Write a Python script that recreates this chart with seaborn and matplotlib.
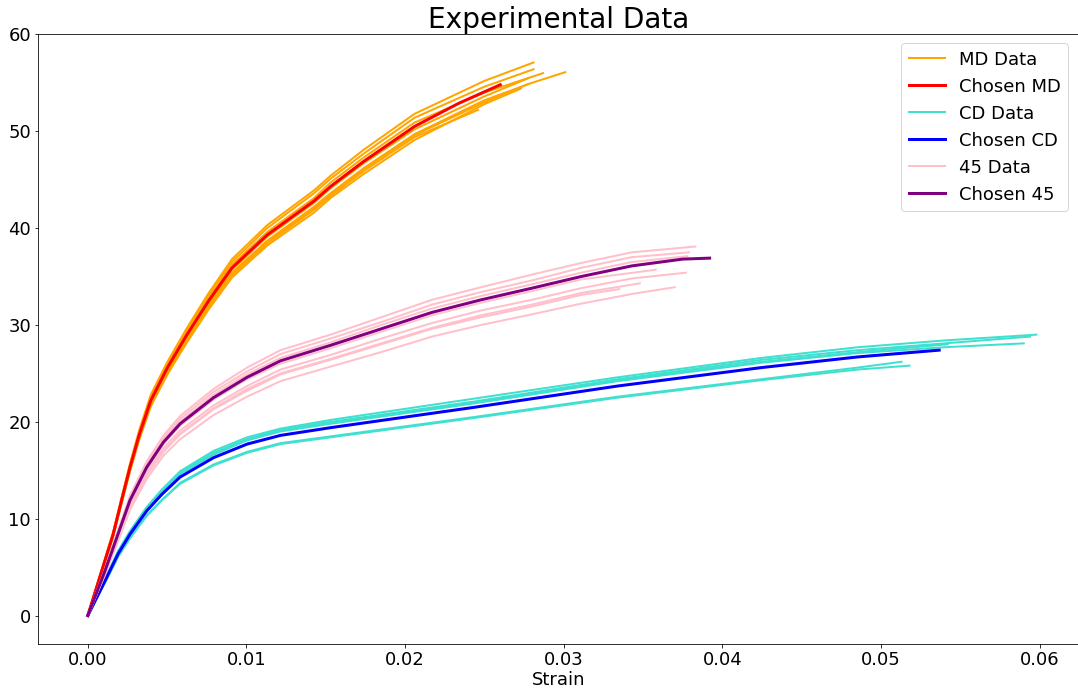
import matplotlib
matplotlib.use("Agg")
import matplotlib.pyplot as plt
import seaborn as sns

# ---------------- data ----------------
# ---- MD direction ----
md_grid = [0, 0.0016, 0.00213, 0.00266, 0.00325, 0.00397, 0.00502, 0.00625,
           0.00762, 0.00909, 0.01131, 0.01426, 0.0153, 0.0174, 0.0206]
md_tail_strain = [
    [0.025, 0.0281],
    [0.025, 0.0281],
    [0.025, 0.0287],
    [0.025, 0.028, 0.0301],
    [0.025, 0.0278],
    [0.025, 0.0278],
    [0.025, 0.0273],
    [0.0246],
]
md_stress = [
    [0, 8.6, 12.2, 15.7, 19.2, 22.8, 26.2, 29.7, 33.3, 36.8, 40.3, 43.9, 45.4, 48.1, 51.8, 55.2, 57.1],
    [0, 8.6, 12.1, 15.6, 19.0, 22.6, 26.1, 29.5, 33.1, 36.5, 40.0, 43.6, 45.1, 47.7, 51.4, 54.6, 56.4],
    [0, 8.5, 12.0, 15.4, 18.8, 22.4, 25.8, 29.2, 32.8, 36.2, 39.6, 43.1, 44.7, 47.3, 50.9, 54.0, 56.0],
    [0, 8.3, 11.7, 15.1, 18.4, 21.9, 25.2, 28.6, 32.0, 35.4, 38.7, 42.2, 43.6, 46.2, 49.7, 53.2, 55.0, 56.1],
    [0, 8.4, 11.8, 15.2, 18.6, 22.1, 25.5, 28.9, 32.3, 35.7, 39.1, 42.6, 44.1, 46.7, 50.2, 53.6, 55.5],
    [0, 8.2, 11.7, 15.0, 18.4, 21.8, 25.1, 28.5, 31.9, 35.3, 38.6, 42.0, 43.5, 46.1, 49.6, 53.0, 54.9],
    [0, 8.2, 11.6, 14.9, 18.2, 21.6, 24.9, 28.2, 31.6, 34.9, 38.2, 41.6, 43.1, 45.6, 49.1, 52.8, 54.4],
    [0, 8.2, 11.6, 15.0, 18.3, 21.7, 25.0, 28.4, 31.8, 35.1, 38.4, 41.9, 43.3, 45.9, 49.4, 52.2],
]
md_chosen_strain = [0, 0.0016, 0.00213, 0.00266, 0.00325, 0.00397, 0.00502, 0.00625,
                    0.00762, 0.00909, 0.01131, 0.01426, 0.0153, 0.0174, 0.0206, 0.0234, 0.0260]
md_chosen_stress = [0, 8.4, 11.9, 15.3, 18.7, 22.2, 25.6, 29.0,
                    32.5, 35.9, 39.3, 42.8, 44.3, 46.9, 50.5, 52.9, 54.8]

# ---- CD direction ----
cd_grid = [0, 0.00118, 0.00192, 0.00266, 0.00371, 0.00466, 0.00582, 0.00793,
           0.01004, 0.01215, 0.01532, 0.02437, 0.03342, 0.04247, 0.04854]
cd_tail_strain = [
    [0.054, 0.0598],
    [0.054, 0.0594],
    [0.054, 0.0590],
    [0.0542],
    [0.0513],
    [0.0518],
]
cd_stress = [
    [0, 4.1, 6.7, 8.7, 11.2, 13.0, 14.9, 17.0, 18.4, 19.3, 20.2, 22.4, 24.6, 26.6, 27.7, 28.4, 29.0],
    [0, 4.0, 6.6, 8.7, 11.1, 12.9, 14.7, 16.8, 18.2, 19.2, 20.0, 22.1, 24.4, 26.4, 27.4, 28.1, 28.8],
    [0, 4.0, 6.5, 8.6, 11.0, 12.8, 14.6, 16.6, 18.1, 19.0, 19.8, 21.9, 24.2, 26.1, 27.1, 27.7, 28.1],
    [0, 4.0, 6.6, 8.6, 11.1, 12.8, 14.7, 16.7, 18.1, 19.1, 19.9, 22.0, 24.3, 26.2, 27.2, 28.0],
    [0, 3.7, 6.1, 8.0, 10.3, 11.9, 13.7, 15.6, 16.9, 17.8, 18.5, 20.5, 22.6, 24.4, 25.6, 26.2],
    [0, 3.7, 6.1, 8.0, 10.3, 11.9, 13.6, 15.5, 16.8, 17.7, 18.4, 20.4, 22.5, 24.3, 25.4, 25.8],
]
cd_chosen_strain = [0, 0.00118, 0.00192, 0.00266, 0.00371, 0.00466, 0.00582, 0.00793,
                    0.01004, 0.01215, 0.01532, 0.02437, 0.03342, 0.04247, 0.04854, 0.05367]
cd_chosen_stress = [0, 3.9, 6.4, 8.4, 10.8, 12.5, 14.3, 16.3,
                    17.7, 18.6, 19.4, 21.5, 23.7, 25.6, 26.7, 27.4]

# ---- 45 degree direction ----
d45_grid = [0, 0.00108, 0.0016, 0.00266, 0.00371, 0.00477, 0.00582, 0.00793,
            0.01004, 0.01215, 0.0153, 0.0185, 0.0217, 0.0248, 0.028, 0.0311]
d45_tail_strain = [
    [0.0343, 0.0383],
    [0.0343, 0.0379],
    [0.0343, 0.0378],
    [0.0358],
    [0.0343, 0.0377],
    [0.0348],
    [0.0343, 0.0370],
    [0.0335],
]
d45_stress = [
    [0, 4.8, 7.3, 12.4, 15.9, 18.6, 20.6, 23.4, 25.6, 27.4, 29.0, 30.8, 32.6, 33.9, 35.2, 36.4, 37.5, 38.1],
    [0, 4.7, 7.2, 12.2, 15.7, 18.3, 20.3, 23.1, 25.2, 27.0, 28.6, 30.3, 32.1, 33.4, 34.6, 35.9, 37.0, 37.5],
    [0, 4.7, 7.1, 12.0, 15.5, 18.1, 20.0, 22.8, 24.9, 26.6, 28.2, 30.0, 31.7, 33.0, 34.2, 35.4, 36.5, 37.1],
    [0, 4.6, 6.9, 11.8, 15.1, 17.7, 19.6, 22.3, 24.4, 26.0, 27.6, 29.3, 31.0, 32.3, 33.5, 34.7, 35.7],
    [0, 4.4, 6.8, 11.5, 14.8, 17.3, 19.1, 21.7, 23.7, 25.4, 26.9, 28.6, 30.2, 31.5, 32.6, 33.8, 34.8, 35.4],
    [0, 4.4, 6.7, 11.3, 14.5, 17.0, 18.8, 21.4, 23.4, 25.0, 26.5, 28.1, 29.7, 31.0, 32.1, 33.3, 34.3],
    [0, 4.2, 6.4, 10.9, 14.1, 16.5, 18.2, 20.7, 22.6, 24.2, 25.7, 27.2, 28.8, 30.0, 31.1, 32.2, 33.2, 33.9],
    [0, 4.3, 6.6, 11.2, 14.5, 16.9, 18.7, 21.3, 23.2, 24.9, 26.4, 28.0, 29.6, 30.8, 31.9, 33.1, 33.7],
]
d45_chosen_strain = [0, 0.00108, 0.0016, 0.00266, 0.00371, 0.00477, 0.00582, 0.00793,
                     0.01004, 0.01215, 0.0153, 0.0185, 0.0217, 0.0248, 0.028, 0.0311,
                     0.0343, 0.0375, 0.0392]
d45_chosen_stress = [0, 4.6, 7.0, 11.9, 15.3, 17.9, 19.8, 22.5,
                     24.6, 26.3, 27.9, 29.6, 31.3, 32.6, 33.8, 35.0,
                     36.1, 36.8, 36.9]

title_text = "Experimental Data"
x_label = "Strain"
legend_labels = ["MD Data", "Chosen MD", "CD Data", "Chosen CD", "45 Data", "Chosen 45"]
x_ticks = [0.0, 0.01, 0.02, 0.03, 0.04, 0.05, 0.06]
x_tick_labels = ["0.00", "0.01", "0.02", "0.03", "0.04", "0.05", "0.06"]
y_ticks = [0, 10, 20, 30, 40, 50, 60]

# ---------------- figure ----------------
W, H, DPI = 1078, 690, 72
fig = plt.figure(figsize=(W / DPI, H / DPI), dpi=DPI)
ax_left, ax_right, ax_top, ax_bottom = 38, 1079, 34.4, 644
ax = fig.add_axes([ax_left / W, (H - ax_bottom) / H,
                   (ax_right - ax_left) / W, (ax_bottom - ax_top) / H])


def draw_group(xs_list, ys_list, color, lw, label):
    for i, (xs, ys) in enumerate(zip(xs_list, ys_list)):
        sns.lineplot(x=xs, y=ys, ax=ax, color=color, linewidth=lw,
                     sort=False, estimator=None,
                     label=label if i == 0 else None)


md_strain = [md_grid + t for t in md_tail_strain]
cd_strain = [cd_grid + t for t in cd_tail_strain]
d45_strain = [d45_grid + t for t in d45_tail_strain]

draw_group(md_strain, md_stress, "orange", 2, legend_labels[0])
draw_group([md_chosen_strain], [md_chosen_stress], "red", 3, legend_labels[1])
draw_group(cd_strain, cd_stress, "turquoise", 2, legend_labels[2])
draw_group([cd_chosen_strain], [cd_chosen_stress], "blue", 3, legend_labels[3])
draw_group(d45_strain, d45_stress, "pink", 2, legend_labels[4])
draw_group([d45_chosen_strain], [d45_chosen_stress], "purple", 3, legend_labels[5])

ax.set_title(title_text, fontsize=28)
ax.set_xlabel(x_label, fontsize=18, labelpad=2)
ax.set_ylabel("")
ax.tick_params(labelsize=18)
ax.set_yticks(y_ticks)
ax.set_xticks(x_ticks)
ax.set_xticklabels(x_tick_labels)
ax.set_xlim(-0.00314, -0.00314 + (ax_right - ax_left) / 15863)
ax.set_ylim(-2.94, 60.0)
ax.legend(loc="upper right", fontsize=18,
          bbox_to_anchor=((1077 - ax_left) / (ax_right - ax_left), 1.0))

fig.savefig("out.png", dpi=DPI)
